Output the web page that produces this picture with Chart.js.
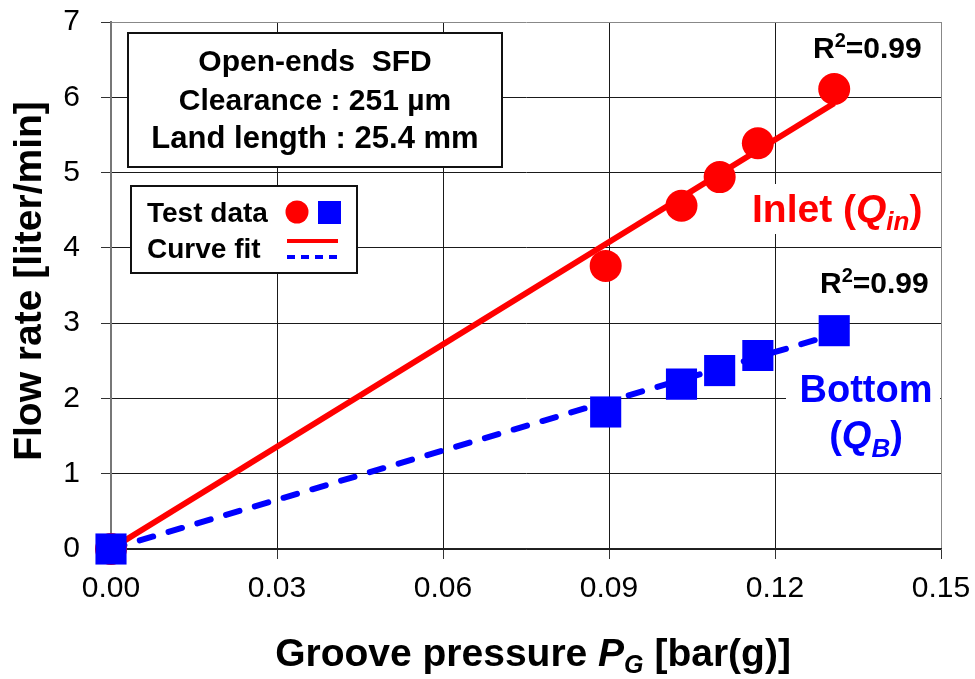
<!DOCTYPE html>
<html>
<head>
<meta charset="utf-8">
<script src="https://cdn.jsdelivr.net/npm/chart.js@4.4.0/dist/chart.umd.min.js"></script>
<style>
  html, body { margin: 0; padding: 0; background: #fff; }
</style>
</head>
<body>
<canvas id="flowChart" width="975" height="679"></canvas>
<script>
// ===== DATA =====
const testPressure = [0, 0.0894, 0.1031, 0.1100, 0.1169, 0.1307];
const inletFlow    = [0, 3.76, 4.56, 4.94, 5.39, 6.11];
const bottomFlow   = [0, 1.82, 2.19, 2.37, 2.57, 2.90];

const fitPressure  = [0, 0.1307];
const inletFit     = [0, 5.92];
const bottomFit    = [0, 2.85];

const xTicks = [0, 0.03, 0.06, 0.09, 0.12, 0.15];
const yTicks = [0, 1, 2, 3, 4, 5, 6, 7];

const FONT = "'Liberation Sans', Arial, Helvetica, sans-serif";

const toPoints = (xs, ys) => xs.map((x, i) => ({ x: x, y: ys[i] }));

// draws a row of text pieces with different styles (italic, subscripts...)
function drawRuns(ctx, runs, x, y, align) {
    let total = 0;
    runs.forEach(r => { ctx.font = r.font; total += ctx.measureText(r.text).width; });
    let cx = align === 'center' ? x - total / 2 : x;
    runs.forEach(r => {
        ctx.font = r.font;
        ctx.fillStyle = r.color;
        ctx.textAlign = 'left';
        ctx.textBaseline = 'alphabetic';
        ctx.fillText(r.text, cx, y + (r.dy || 0));
        cx += ctx.measureText(r.text).width;
    });
}

function whiteBox(ctx, x, y, w, h, stroke) {
    ctx.save();
    ctx.fillStyle = '#fff';
    ctx.fillRect(x, y, w, h);
    if (stroke) {
        ctx.strokeStyle = '#111';
        ctx.lineWidth = 2;
        ctx.strokeRect(x, y, w, h);
    }
    ctx.restore();
}

// ===== ANNOTATIONS (boxes, labels, axis titles) =====
const annotations = {
    id: 'annotations',
    beforeDatasetsDraw(chart) {
        const ctx = chart.ctx;
        ctx.save();

        // info box
        whiteBox(ctx, 128, 33, 374, 134, true);
        ctx.fillStyle = '#000';
        ctx.textAlign = 'center';
        ctx.font = 'bold 30px ' + FONT;
        ctx.fillText('Open-ends  SFD', 315, 71);
        ctx.fillText('Clearance : 251 µm', 315, 110);
        ctx.font = 'bold 31px ' + FONT;
        ctx.fillText('Land length : 25.4 mm', 315, 148);

        // legend box
        whiteBox(ctx, 131, 186, 226, 87, true);
        ctx.textAlign = 'left';
        ctx.font = 'bold 28px ' + FONT;
        ctx.fillText('Test data', 147, 222);
        ctx.fillText('Curve fit', 147, 258);

        ctx.fillStyle = '#ff0000';
        ctx.beginPath();
        ctx.arc(297, 212, 11.5, 0, Math.PI * 2);
        ctx.fill();
        ctx.fillStyle = '#0000ff';
        ctx.fillRect(318, 201, 23, 23);

        ctx.lineWidth = 4;
        ctx.strokeStyle = '#ff0000';
        ctx.beginPath();
        ctx.moveTo(287, 241);
        ctx.lineTo(338, 241);
        ctx.stroke();
        ctx.strokeStyle = '#0000ff';
        ctx.setLineDash([8, 6]);
        ctx.beginPath();
        ctx.moveTo(287, 257);
        ctx.lineTo(339, 257);
        ctx.stroke();
        ctx.setLineDash([]);

        // R^2 labels
        const r2 = [
            { text: 'R', font: 'bold 30px ' + FONT, color: '#000' },
            { text: '2', font: 'bold 20px ' + FONT, color: '#000', dy: -11 },
            { text: '=0.99', font: 'bold 30px ' + FONT, color: '#000' }
        ];
        drawRuns(ctx, r2, 813, 58, 'left');
        drawRuns(ctx, r2, 820, 293, 'left');

        // series labels
        whiteBox(ctx, 748, 184, 182, 50, false);
        const red = '#ff0000';
        drawRuns(ctx, [
            { text: 'Inlet (', font: 'bold 39px ' + FONT, color: red },
            { text: 'Q', font: 'italic bold 39px ' + FONT, color: red },
            { text: 'in', font: 'italic bold 26px ' + FONT, color: red, dy: 8 },
            { text: ')', font: 'bold 39px ' + FONT, color: red }
        ], 752, 222, 'left');

        whiteBox(ctx, 786, 366, 154, 100, false);
        const blue = '#0000ff';
        drawRuns(ctx, [{ text: 'Bottom', font: 'bold 38px ' + FONT, color: blue }], 866, 402, 'center');
        drawRuns(ctx, [
            { text: '(', font: 'bold 38px ' + FONT, color: blue },
            { text: 'Q', font: 'italic bold 38px ' + FONT, color: blue },
            { text: 'B', font: 'italic bold 26px ' + FONT, color: blue, dy: 9 },
            { text: ')', font: 'bold 38px ' + FONT, color: blue }
        ], 866, 448, 'center');

        ctx.restore();
    },
    afterDraw(chart) {
        const ctx = chart.ctx;
        ctx.save();
        // x title
        drawRuns(ctx, [
            { text: 'Groove pressure ', font: 'bold 39px ' + FONT, color: '#000' },
            { text: 'P', font: 'italic bold 39px ' + FONT, color: '#000' },
            { text: 'G', font: 'italic bold 25px ' + FONT, color: '#000', dy: 7 },
            { text: ' [bar(g)]', font: 'bold 39px ' + FONT, color: '#000' }
        ], 533, 666, 'center');

        // y title
        ctx.translate(41, 281);
        ctx.rotate(-Math.PI / 2);
        drawRuns(ctx, [{ text: 'Flow rate [liter/min]', font: 'bold 39px ' + FONT, color: '#000' }], 0, 0, 'center');
        ctx.restore();
    }
};

// ===== CHART =====
const ctxFlow = document.getElementById('flowChart').getContext('2d');
const flowChart = new Chart(ctxFlow, {
    type: 'scatter',
    data: {
        datasets: [
            {
                label: 'Bottom test data',
                data: toPoints(testPressure, bottomFlow),
                pointStyle: 'rect',
                pointRadius: 22,
                pointBackgroundColor: '#0000ff',
                pointBorderWidth: 0,
                showLine: false,
                clip: false,
                order: 0
            },
            {
                label: 'Inlet test data',
                data: toPoints(testPressure, inletFlow),
                pointStyle: 'circle',
                pointRadius: 16,
                pointBackgroundColor: '#ff0000',
                pointBorderWidth: 0,
                showLine: false,
                clip: false,
                order: 1
            },
            {
                label: 'Bottom curve fit',
                data: toPoints(fitPressure, bottomFit),
                showLine: true,
                borderColor: '#0000ff',
                borderWidth: 6,
                borderDash: [14, 16],
                borderCapStyle: 'round',
                pointRadius: 0,
                clip: false,
                order: 2
            },
            {
                label: 'Inlet curve fit',
                data: toPoints(fitPressure, inletFit),
                showLine: true,
                borderColor: '#ff0000',
                borderWidth: 6,
                pointRadius: 0,
                clip: false,
                order: 3
            }
        ]
    },
    options: {
        responsive: false,
        animation: false,
        events: [],
        layout: { padding: { left: 0, right: 34, top: 22, bottom: 0 } },
        plugins: {
            legend: { display: false },
            tooltip: { enabled: false }
        },
        scales: {
            x: {
                type: 'linear',
                min: 0,
                max: 0.15,
                afterBuildTicks: s => { s.ticks = xTicks.map(v => ({ value: v })); },
                afterFit: s => {
                    s.height = 130;
                    s.paddingLeft = 0;
                    s.paddingRight = 0;
                },
                grid: {
                    color: c => (c.tick && c.tick.value === 0.15) ? '#888' : '#1a1a1a',
                    lineWidth: 1,
                    tickLength: 10,
                    tickColor: '#333'
                },
                border: { color: '#222', width: 1.5 },
                ticks: {
                    maxRotation: 0,
                    padding: 12,
                    color: '#000',
                    font: { family: FONT, size: 30 },
                    callback: v => Number(v).toFixed(2)
                }
            },
            y: {
                min: 0,
                max: 7,
                afterBuildTicks: s => { s.ticks = yTicks.map(v => ({ value: v })); },
                afterFit: s => {
                    s.width = 111;
                    s.paddingTop = 0;
                    s.paddingBottom = 0;
                },
                grid: {
                    color: c => (c.tick && c.tick.value === 7) ? '#888' : '#1a1a1a',
                    lineWidth: 1,
                    tickLength: 10,
                    tickColor: '#333'
                },
                border: { color: '#777', width: 2 },
                ticks: {
                    padding: 21,
                    color: '#000',
                    font: { family: FONT, size: 30 },
                    callback: v => String(v)
                }
            }
        }
    },
    plugins: [annotations]
});
</script>
</body>
</html>
